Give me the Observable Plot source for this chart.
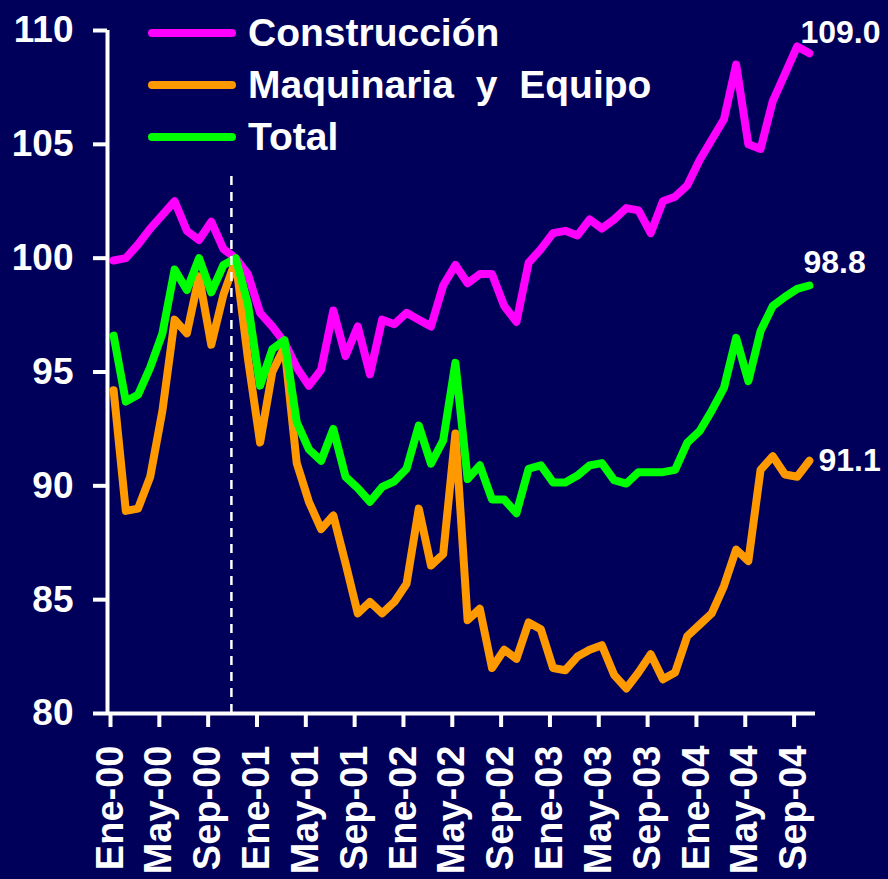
<!DOCTYPE html>
<html><head><meta charset="utf-8">
<script src="https://cdn.jsdelivr.net/npm/d3@7"></script>
<script src="https://cdn.jsdelivr.net/npm/@observablehq/plot@0.6"></script>
<style>
html,body{margin:0;padding:0;background:#00005a;}
#wrap{position:relative;width:888px;height:879px;overflow:hidden;background:#00005a;}
#legend{position:absolute;left:148px;top:7px;font-family:"Liberation Sans",Arial,sans-serif;font-weight:bold;font-size:39px;color:#fff;word-spacing:11px;}
.row{display:flex;align-items:center;height:52px;white-space:pre;}
.sw{width:88px;height:8px;border-radius:4px;margin-right:12px;}
#chart{position:absolute;left:0;top:0;}
</style></head><body><div id="wrap"><div id="chart"></div><div id="legend"></div></div>
<script>
const tickLabels = ["Ene-00","May-00","Sep-00","Ene-01","May-01","Sep-01","Ene-02","May-02","Sep-02","Ene-03","May-03","Sep-03","Ene-04","May-04","Sep-04"];
const monthsPerTick = 4;
const monthCount = 58;
const seriesNames = ["Construcción","Maquinaria y Equipo","Total"];
const seriesColors = ["#ff00ff","#ff9900","#00ff00"];
const construccion = [99.9,100.0,100.6,101.3,101.9,102.5,101.2,100.8,101.6,100.4,100.0,99.3,97.6,97.0,96.3,95.2,94.4,95.1,97.7,95.7,97.0,94.9,97.3,97.1,97.6,97.3,97.0,98.8,99.7,98.9,99.3,99.3,97.9,97.2,99.8,100.4,101.1,101.2,101.0,101.7,101.3,101.7,102.2,102.1,101.1,102.5,102.7,103.2,104.3,105.2,106.1,108.5,105.0,104.8,106.9,108.1,109.3,109.0];
const maquinaria = [94.2,88.9,89.0,90.4,93.3,97.3,96.7,99.2,96.2,98.4,99.9,95.6,91.9,95.0,96.1,91.0,89.3,88.1,88.7,86.6,84.4,84.9,84.4,84.9,85.7,89.0,86.5,87.0,92.3,84.1,84.6,82.0,82.8,82.4,84.0,83.7,82.0,81.9,82.5,82.8,83.0,81.7,81.1,81.8,82.6,81.5,81.8,83.4,83.9,84.4,85.6,87.2,86.7,90.7,91.3,90.5,90.4,91.1];
const total = [96.6,93.7,94.0,95.2,96.7,99.5,98.6,100.0,98.5,99.7,100.0,98.0,94.4,96.0,96.4,92.8,91.6,91.1,92.5,90.4,89.9,89.3,89.95,90.2,90.75,92.65,90.97,92.0,95.4,90.3,90.9,89.4,89.4,88.8,90.75,90.9,90.15,90.15,90.45,90.9,91.0,90.25,90.1,90.6,90.6,90.6,90.7,91.9,92.4,93.3,94.3,96.5,94.6,96.8,97.9,98.3,98.65,98.8];
const yTicks = [80,85,90,95,100,105,110];
const breakPosition = 10.15;   // dashed divider, in months from Ene-00
const breakTop = 103.6;        // dashed divider top, in index units

const seriesValues = [construccion, maquinaria, total];
const rows = seriesValues.flatMap((vals, s) => vals.map((v, i) => ({series: seriesNames[s], i: i + 0.5, v})));
const lastPoints = seriesValues.map((vals, s) => ({series: seriesNames[s], i: vals.length - 0.5, v: vals[vals.length - 1]}));
const tickPos = tickLabels.map((_, k) => k * monthsPerTick);
const font = "Liberation Sans, Arial, sans-serif";

const chart = Plot.plot({
  width: 888, height: 879,
  marginLeft: 107, marginRight: 73, marginTop: 30, marginBottom: 166,
  style: {background: "transparent", color: "white", fontFamily: font, fontWeight: "bold", overflow: "visible"},
  x: {domain: [0, monthCount]},
  y: {domain: [80, 110]},
  color: {domain: seriesNames, range: seriesColors},
  marks: [
    Plot.line(rows, {x: "i", y: "v", z: "series", stroke: "series", strokeWidth: 8, strokeLinejoin: "round", strokeLinecap: "round"}),
    Plot.ruleX([breakPosition], {y1: 80, y2: breakTop, stroke: "white", strokeWidth: 2.5, strokeDasharray: "9,7"}),
    Plot.ruleX([0], {y1: 80, y2: 110, stroke: "white", strokeWidth: 4}),
    Plot.ruleY([80], {stroke: "white", strokeWidth: 4}),
    Plot.axisY({ticks: yTicks, tickSize: 14, tickPadding: 20, fontSize: 37, strokeWidth: 4, label: null}),
    Plot.axisX({ticks: tickPos, tickFormat: (d) => tickLabels[Math.round(d / monthsPerTick)], tickRotate: -90, tickSize: 14, tickPadding: 18, fontSize: 38, strokeWidth: 4, dx: 3, label: null}),
    Plot.text(lastPoints.filter(d => d.series === "Construcción"), {x: "i", y: "v", text: d => d.v.toFixed(1), fill: "white", fontSize: 32, fontWeight: "bold", textAnchor: "start", dx: -9, dy: -21}),
    Plot.text(lastPoints.filter(d => d.series === "Total"), {x: "i", y: "v", text: d => d.v.toFixed(1), fill: "white", fontSize: 32, fontWeight: "bold", textAnchor: "start", dx: -6, dy: -23}),
    Plot.text(lastPoints.filter(d => d.series === "Maquinaria y Equipo"), {x: "i", y: "v", text: d => d.v.toFixed(1), fill: "white", fontSize: 32, fontWeight: "bold", textAnchor: "start", dx: 9, dy: 0})
  ]
});
document.getElementById("chart").appendChild(chart);

const legend = document.getElementById("legend");
seriesNames.forEach((name, s) => {
  const row = document.createElement("div");
  row.className = "row";
  const sw = document.createElement("span");
  sw.className = "sw";
  sw.style.background = seriesColors[s];
  const t = document.createElement("span");
  t.textContent = name;
  row.appendChild(sw); row.appendChild(t);
  legend.appendChild(row);
});
</script></body></html>
